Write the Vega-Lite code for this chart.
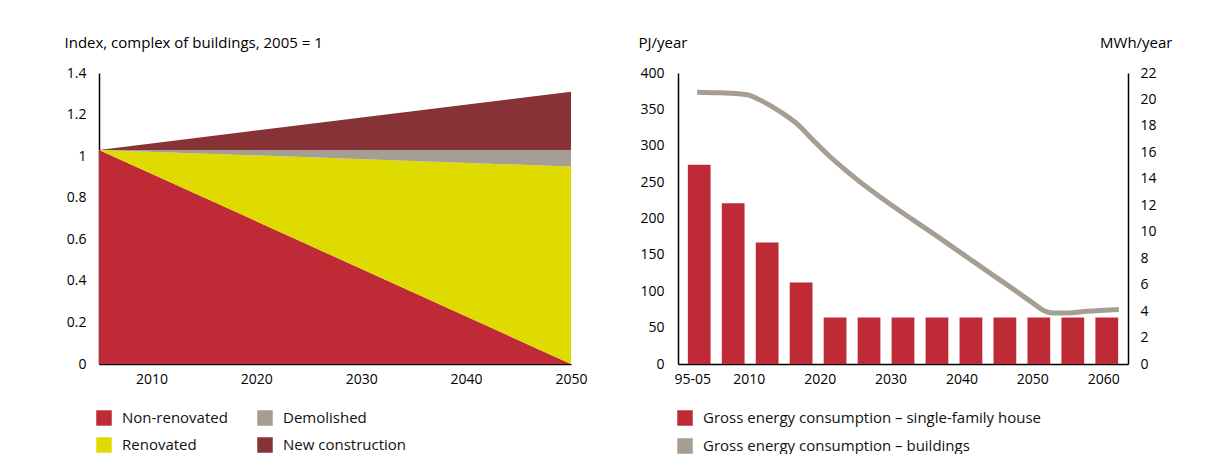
{
  "$schema": "https://vega.github.io/schema/vega-lite/v6.json",
  "padding": {"left": 64, "top": 35, "right": 0, "bottom": 0},
  "spacing": 50,
  "config": {
    "font": "Open Sans",
    "view": {"stroke": null},
    "axis": {"labelFont": "Open Sans", "labelFontSize": 14, "labelColor": "#000", "ticks": false, "grid": false, "domainColor": "#000", "domainWidth": 1.5, "titleFont": "Open Sans", "titleFontSize": 15, "titleFontWeight": "normal", "titleColor": "#000"},
    "legend": {"labelFont": "Open Sans", "labelFontSize": 15, "labelColor": "#111", "symbolType": "square", "symbolSize": 240, "symbolStrokeWidth": 0, "labelOffset": 10, "rowPadding": 12, "title": null, "labelLimit": 500}
  },
  "resolve": {"scale": {"color": "independent"}, "legend": {"color": "independent"}},
  "hconcat": [
    {
      "width": 472,
      "height": 291,
      "data": {"values": [
        {"year": 2005, "category": "Non-renovated", "value": 1.03},
        {"year": 2050, "category": "Non-renovated", "value": 0},
        {"year": 2005, "category": "Renovated", "value": 0},
        {"year": 2050, "category": "Renovated", "value": 0.95},
        {"year": 2005, "category": "Demolished", "value": 0},
        {"year": 2050, "category": "Demolished", "value": 0.08},
        {"year": 2005, "category": "New construction", "value": 0},
        {"year": 2050, "category": "New construction", "value": 0.28}
      ]},
      "mark": {"type": "area"},
      "encoding": {
        "x": {"field": "year", "type": "quantitative", "scale": {"domain": [2005, 2050], "nice": false, "zero": false},
              "axis": {"values": [2010, 2020, 2030, 2040, 2050], "format": "d", "labelFlush": false, "labelPadding": 8, "title": null}},
        "y": {"field": "value", "type": "quantitative", "stack": "zero", "scale": {"domain": [0, 1.4], "nice": false},
              "axis": {"values": [0, 0.2, 0.4, 0.6, 0.8, 1, 1.2, 1.4], "format": ".1~f", "labelPadding": 13,
                       "title": "Index, complex of buildings, 2005 = 1", "titleAngle": 0, "titleX": -35, "titleY": -31, "titleAlign": "left", "titleBaseline": "middle"}},
        "color": {"field": "category", "type": "nominal",
                  "sort": ["Non-renovated", "Renovated", "Demolished", "New construction"],
                  "scale": {"domain": ["Non-renovated", "Renovated", "Demolished", "New construction"], "range": ["#BE2A36", "#DFDB00", "#A69E93", "#873236"]},
                  "legend": {"orient": "none", "legendX": -3, "legendY": 337, "columns": 2, "columnPadding": 29, "rowPadding": 11}},
        "order": {"field": "color_category_sort_index", "type": "quantitative", "sort": "ascending"}
      }
    },
    {
      "width": 450,
      "height": 291,
      "layer": [
        {
          "data": {"values": [
            {"period": "95-05", "pj": 274, "series": "Gross energy consumption – single-family house"},
            {"period": "2010", "pj": 221, "series": "Gross energy consumption – single-family house"},
            {"period": "2015", "pj": 167, "series": "Gross energy consumption – single-family house"},
            {"period": "2020", "pj": 112, "series": "Gross energy consumption – single-family house"},
            {"period": "2025", "pj": 64, "series": "Gross energy consumption – single-family house"},
            {"period": "2030", "pj": 64, "series": "Gross energy consumption – single-family house"},
            {"period": "2035", "pj": 64, "series": "Gross energy consumption – single-family house"},
            {"period": "2040", "pj": 64, "series": "Gross energy consumption – single-family house"},
            {"period": "2045", "pj": 64, "series": "Gross energy consumption – single-family house"},
            {"period": "2050", "pj": 64, "series": "Gross energy consumption – single-family house"},
            {"period": "2055", "pj": 64, "series": "Gross energy consumption – single-family house"},
            {"period": "2060", "pj": 64, "series": "Gross energy consumption – single-family house"},
            {"period": "2065", "pj": 64, "series": "Gross energy consumption – single-family house"}
          ]},
          "mark": {"type": "bar"},
          "encoding": {
            "x": {"field": "period", "type": "nominal", "sort": null, "scale": {"paddingInner": 0.33, "paddingOuter": 0.29}, "axis": null},
            "y": {"field": "pj", "type": "quantitative", "scale": {"domain": [0, 400], "nice": false},
                  "axis": {"orient": "left", "values": [0, 50, 100, 150, 200, 250, 300, 350, 400], "labelPadding": 14,
                           "title": "PJ/year", "titleAngle": 0, "titleX": -40, "titleY": -31, "titleAlign": "left", "titleBaseline": "middle"}},
            "color": {"field": "series", "type": "nominal",
                      "scale": {"domain": ["Gross energy consumption – single-family house", "Gross energy consumption – buildings"], "range": ["#BE2A36", "#A79E93"]},
                      "legend": {"orient": "none", "legendX": -1, "legendY": 337, "columns": 1, "rowPadding": 12}}
          }
        },
        {
          "data": {"values": [
            {"year": 2002.7, "mwh": 20.55},
            {"year": 2006, "mwh": 20.5},
            {"year": 2009.8, "mwh": 20.35},
            {"year": 2011.2, "mwh": 20.05},
            {"year": 2014.5, "mwh": 19.05},
            {"year": 2016.8, "mwh": 18.15},
            {"year": 2019.1, "mwh": 16.9},
            {"year": 2021.5, "mwh": 15.65},
            {"year": 2024.1, "mwh": 14.45},
            {"year": 2038, "mwh": 9.12},
            {"year": 2047.4, "mwh": 5.62},
            {"year": 2050, "mwh": 4.64},
            {"year": 2051.5, "mwh": 4.07},
            {"year": 2053, "mwh": 3.85},
            {"year": 2055, "mwh": 3.86},
            {"year": 2057.7, "mwh": 3.98},
            {"year": 2062.2, "mwh": 4.13}
          ]},
          "mark": {"type": "line", "color": "#A79E93", "strokeWidth": 5, "interpolate": "monotone"},
          "encoding": {
            "x": {"field": "year", "type": "quantitative", "scale": {"domain": [2000, 2063.5], "nice": false, "zero": false},
                  "axis": {"orient": "bottom", "values": [2002, 2010, 2020, 2030, 2040, 2050, 2060], "labelExpr": "datum.value == 2002 ? '95-05' : format(datum.value, 'd')", "labelFlush": false, "labelPadding": 8, "title": null}},
            "y": {"field": "mwh", "type": "quantitative", "scale": {"domain": [0, 22], "nice": false},
                  "axis": {"orient": "right", "values": [0, 2, 4, 6, 8, 10, 12, 14, 16, 18, 20, 22], "labelPadding": 12,
                           "title": "MWh/year", "titleAngle": 0, "titleX": 44, "titleY": -31, "titleAlign": "right", "titleBaseline": "middle"}}
          }
        }
      ],
      "resolve": {"scale": {"x": "independent", "y": "independent"}}
    }
  ]
}
